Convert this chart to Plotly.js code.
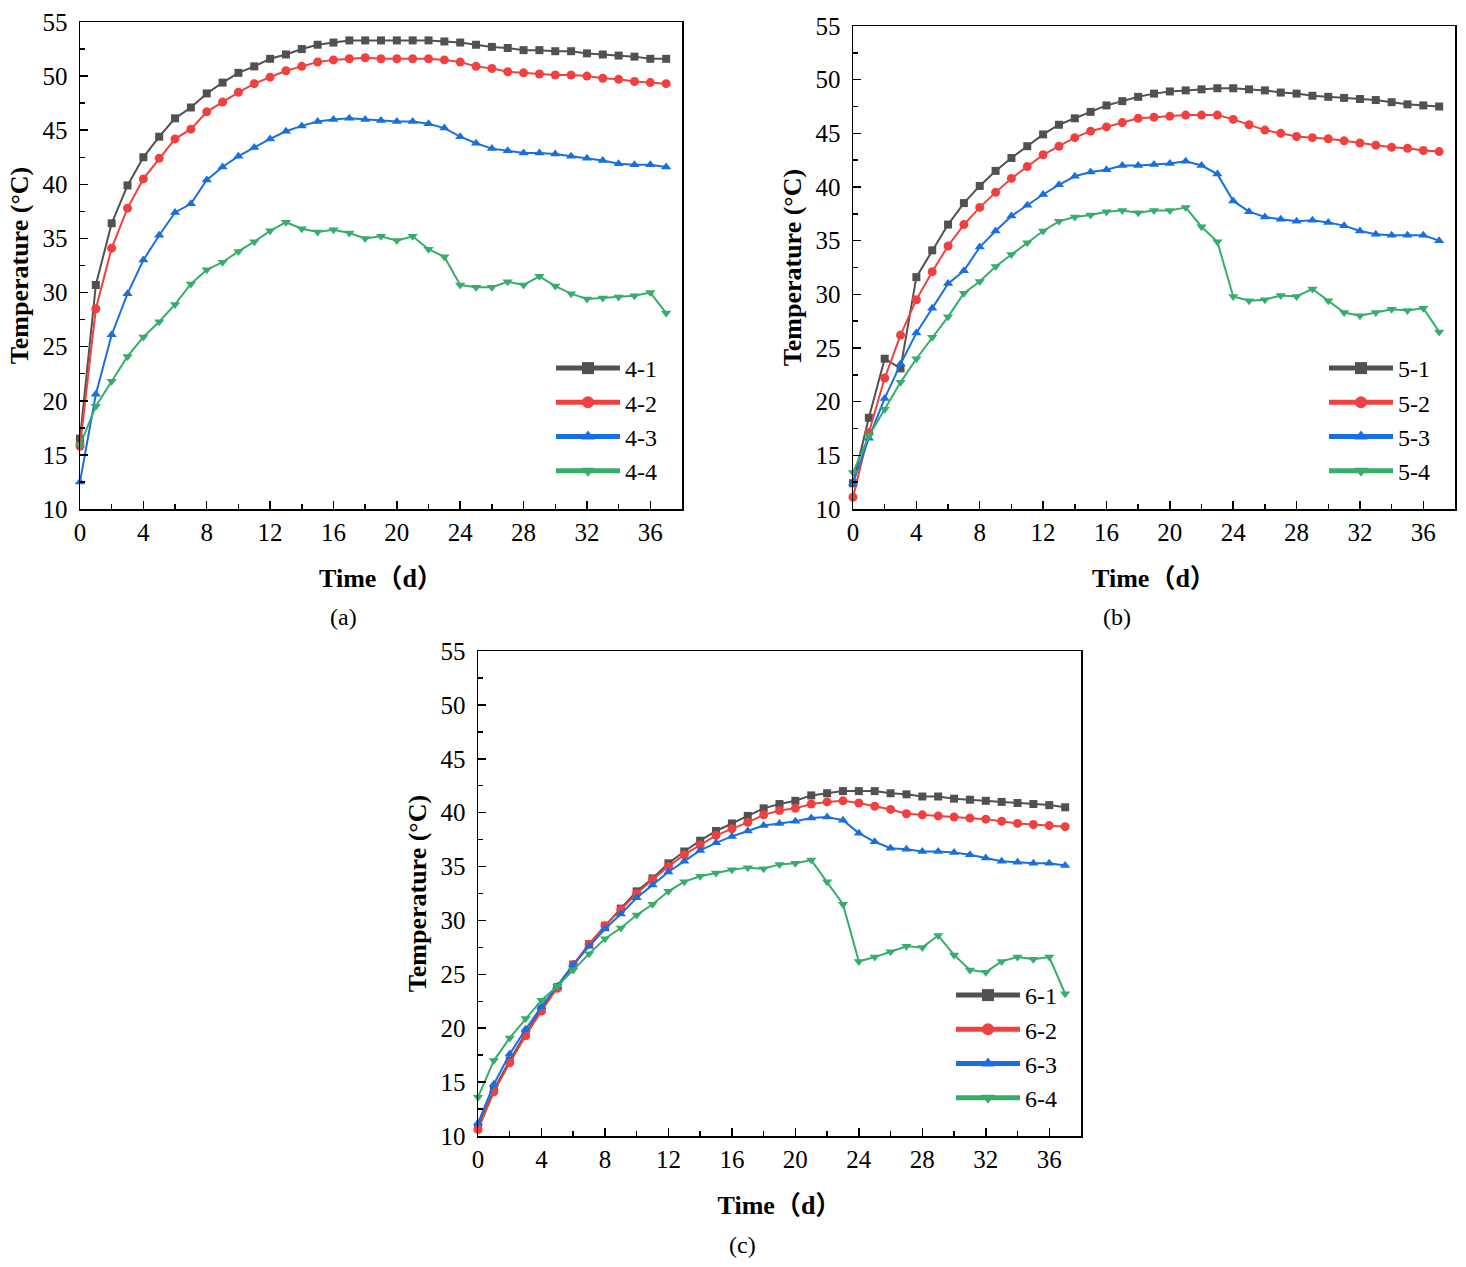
<!DOCTYPE html>
<html>
<head>
<meta charset="utf-8">
<script src="https://cdn.plot.ly/plotly-3.0.1.min.js"></script>
<style>html,body{margin:0;padding:0;background:#fff;}#chart{width:1466px;height:1267px;}</style>
</head>
<body>
<div id="chart"></div>
<script>
const days = [0,1,2,3,4,5,6,7,8,9,10,11,12,13,14,15,16,17,18,19,20,21,22,23,24,25,26,27,28,29,30,31,32,33,34,35,36,37];

const s41 = [16.5,30.7,36.4,39.9,42.5,44.4,46.1,47.1,48.4,49.4,50.3,50.9,51.6,52.0,52.5,52.9,53.1,53.3,53.3,53.3,53.3,53.3,53.3,53.2,53.1,52.9,52.7,52.6,52.4,52.4,52.3,52.3,52.1,52.0,51.9,51.8,51.6,51.6];
const s42 = [15.8,28.5,34.1,37.8,40.5,42.4,44.2,45.1,46.7,47.6,48.5,49.3,49.9,50.5,50.9,51.3,51.5,51.6,51.7,51.6,51.6,51.6,51.6,51.5,51.3,50.9,50.7,50.4,50.3,50.2,50.1,50.1,50.0,49.8,49.7,49.5,49.4,49.3];
const s43 = [12.5,20.6,26.1,29.9,33.0,35.3,37.4,38.2,40.4,41.6,42.6,43.4,44.2,44.9,45.4,45.8,46.0,46.1,46.0,45.9,45.8,45.8,45.6,45.2,44.4,43.8,43.3,43.1,42.9,42.9,42.8,42.6,42.4,42.2,41.9,41.8,41.8,41.6];
const s44 = [15.9,19.5,21.8,24.1,25.9,27.3,28.9,30.8,32.1,32.8,33.8,34.7,35.7,36.5,35.9,35.6,35.8,35.5,35.0,35.2,34.8,35.2,34.0,33.3,30.7,30.5,30.5,31.0,30.7,31.5,30.6,29.9,29.4,29.5,29.6,29.7,30.0,28.1];

const s51 = [12.4,18.5,24.0,23.1,31.6,34.1,36.5,38.5,40.1,41.5,42.7,43.8,44.9,45.8,46.4,47.0,47.6,48.0,48.4,48.7,48.9,49.0,49.1,49.2,49.2,49.1,49.0,48.8,48.7,48.5,48.4,48.3,48.2,48.1,47.9,47.7,47.6,47.5];
const s52 = [11.1,17.1,22.2,26.2,29.5,32.1,34.5,36.5,38.1,39.5,40.8,41.9,43.0,43.8,44.6,45.2,45.6,46.0,46.4,46.5,46.6,46.7,46.7,46.7,46.3,45.8,45.3,45.0,44.7,44.6,44.5,44.3,44.1,43.9,43.7,43.6,43.4,43.3];
const s53 = [12.4,16.6,20.3,23.5,26.4,28.7,31.0,32.2,34.4,35.9,37.3,38.3,39.3,40.2,41.0,41.4,41.6,42.0,42.0,42.1,42.2,42.4,42.0,41.2,38.7,37.7,37.2,37.0,36.8,36.9,36.7,36.4,35.9,35.6,35.5,35.5,35.5,35.0];
const s54 = [13.4,16.8,19.3,21.8,24.0,26.0,27.9,30.1,31.2,32.6,33.7,34.8,35.9,36.8,37.2,37.4,37.7,37.8,37.6,37.8,37.8,38.1,36.3,34.9,29.8,29.4,29.5,29.9,29.8,30.5,29.4,28.3,28.0,28.3,28.6,28.5,28.7,26.5];

const s61 = [10.8,14.3,17.0,19.5,21.8,23.8,25.9,27.8,29.5,31.1,32.7,33.9,35.3,36.4,37.4,38.3,39.0,39.7,40.4,40.8,41.1,41.6,41.8,42.0,42.0,42.0,41.8,41.7,41.5,41.5,41.3,41.2,41.1,41.0,40.9,40.8,40.7,40.5];
const s62 = [10.6,14.1,16.8,19.3,21.6,23.7,25.9,27.8,29.5,31.0,32.5,33.8,35.0,36.1,37.0,37.9,38.5,39.1,39.8,40.2,40.4,40.8,41.0,41.1,40.9,40.6,40.3,39.9,39.8,39.7,39.6,39.5,39.4,39.2,39.0,38.9,38.8,38.7];
const s63 = [11.2,14.8,17.6,19.9,22.0,23.9,25.9,27.6,29.2,30.6,32.1,33.3,34.5,35.5,36.5,37.2,37.8,38.3,38.8,39.0,39.2,39.5,39.6,39.3,38.1,37.3,36.7,36.6,36.4,36.4,36.3,36.1,35.8,35.5,35.4,35.3,35.3,35.1];
const s64 = [13.6,17.0,19.1,20.9,22.6,23.9,25.4,26.9,28.3,29.3,30.5,31.5,32.7,33.6,34.1,34.4,34.7,34.9,34.8,35.2,35.3,35.6,33.6,31.5,26.2,26.6,27.1,27.6,27.5,28.6,26.8,25.4,25.2,26.2,26.6,26.4,26.6,23.2];

const xTickVals = [0,4,8,12,16,20,24,28,32,36];
const yTickVals = [10,15,20,25,30,35,40,45,50,55];
const panelLabels = ['(a)','(b)','(c)'];
const seriesNames = [['4-1','4-2','4-3','4-4'],['5-1','5-2','5-3','5-4'],['6-1','6-2','6-3','6-4']];
const panelData = [[s41,s42,s43,s44],[s51,s52,s53,s54],[s61,s62,s63,s64]];

const colors = ['#515151','#F14040','#1A6FDF','#37AD6B'];
const symbols = ['square','circle','triangle-up','triangle-down'];
const W = 1466, H = 1267;
const serif = "'Liberation Serif', 'Noto Sans CJK SC', serif";

// pixel boxes of the three plot areas [x0, x1, yTop, yBottom]
const boxes = [[80,682,22,509],[853,1455,26,509],[478,1081,651,1136]];
const legendPos = [[551,346],[1324,346],[951,973]];
const labelPos = [[343,617],[1117,617],[742,1245]];

const traces = [];
const layout = {
  width: W, height: H,
  margin: {l:0, r:0, t:0, b:0},
  paper_bgcolor: '#fff', plot_bgcolor: '#fff',
  font: {family: serif, color: '#000', size: 24},
  showlegend: true,
  annotations: []
};

boxes.forEach((b, p) => {
  const sx = p === 0 ? '' : String(p+1);
  const xa = 'xaxis' + sx, ya = 'yaxis' + sx;
  const lg = 'legend' + sx;
  layout[xa] = {
    domain: [b[0]/W, b[1]/W], anchor: 'y' + sx, range: [0, 38],
    tickvals: xTickVals, ticks: 'inside', ticklen: 8, tickwidth: 1.5, tickcolor: '#000',
    minor: {dtick: 2, ticks: 'inside', ticklen: 5, tickwidth: 1.5, tickcolor: '#000', tick0: 0},
    showline: true, linecolor: '#000', linewidth: 1.5, mirror: true,
    showgrid: false, zeroline: false, ticklabelstandoff: 0,
    tickfont: {family: serif, size: 25, color: '#000'},
    title: {text: '<b>Time（d）</b>', font: {family: serif, size: 26, color: '#000'}, standoff: 24},
    automargin: false, fixedrange: true
  };
  layout[ya] = {
    domain: [1 - b[3]/H, 1 - b[2]/H], anchor: 'x' + sx, range: [10, 55],
    tickvals: yTickVals, ticks: 'inside', ticklen: 8, tickwidth: 1.5, tickcolor: '#000',
    minor: {dtick: 2.5, ticks: 'inside', ticklen: 5, tickwidth: 1.5, tickcolor: '#000', tick0: 10},
    showline: true, linecolor: '#000', linewidth: 1.5, mirror: true,
    showgrid: false, zeroline: false, ticklabelstandoff: 6,
    tickfont: {family: serif, size: 25, color: '#000'},
    title: {text: '<b>Temperature (°C)</b>', font: {family: serif, size: 26, color: '#000'}, standoff: 6},
    automargin: false, fixedrange: true
  };
  layout[lg] = {
    x: legendPos[p][0]/W, y: 1 - legendPos[p][1]/H, xanchor: 'left', yanchor: 'top',
    bgcolor: 'rgba(0,0,0,0)', borderwidth: 0,
    font: {family: serif, size: 24, color: '#000'},
    itemwidth: 64, tracegroupgap: 0, itemsizing: 'constant'
  };
  layout.annotations.push({
    text: panelLabels[p], xref: 'paper', yref: 'paper',
    x: labelPos[p][0]/W, y: 1 - labelPos[p][1]/H, xanchor: 'center', yanchor: 'middle',
    showarrow: false, font: {family: serif, size: 24, color: '#000'}
  });
  panelData[p].forEach((vals, k) => {
    traces.push({
      type: 'scatter', mode: 'lines+markers',
      x: days, y: vals, name: seriesNames[p][k],
      xaxis: 'x' + sx, yaxis: 'y' + sx, legend: lg,
      line: {color: colors[k], width: 2},
      marker: {symbol: symbols[k], color: colors[k], size: k === 0 ? 8 : 9},
      cliponaxis: false
    });
  });
});

Plotly.newPlot('chart', traces, layout, {staticPlot: true, displayModeBar: false});
</script>
</body>
</html>
